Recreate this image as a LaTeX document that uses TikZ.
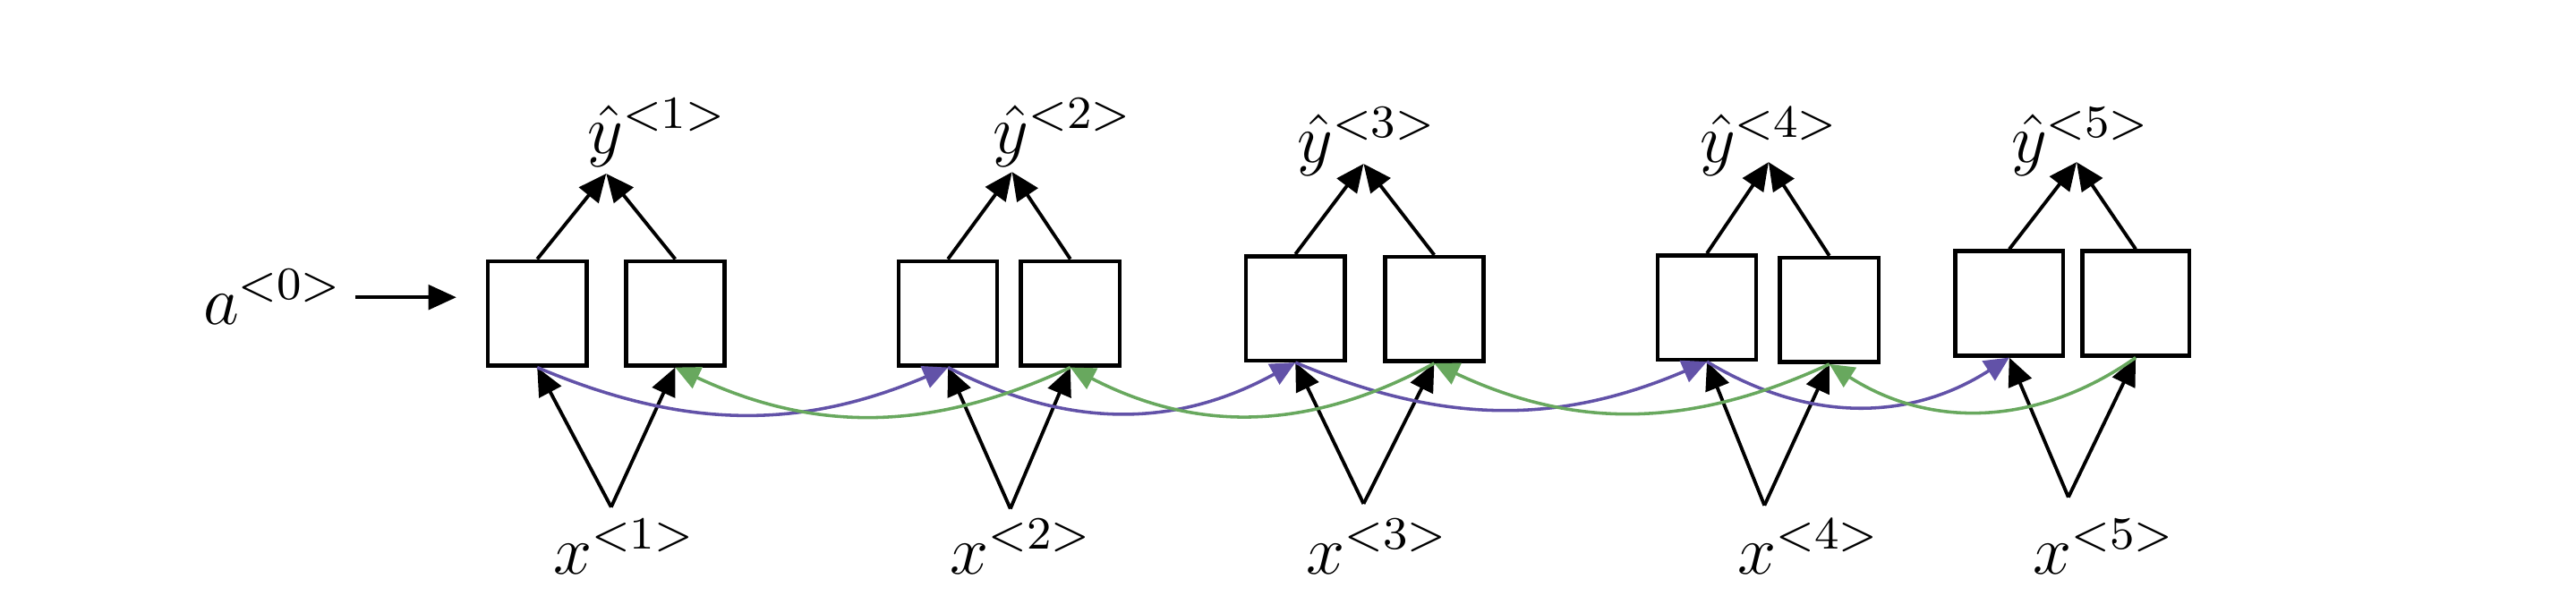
\documentclass[tikz,border=0pt]{standalone}
\usepackage{tikz}
\usetikzlibrary{arrows.meta}
\definecolor{fwdpurple}{RGB}{98,82,168}
\definecolor{bwdgreen}{RGB}{104,168,94}

\begin{document}
\begin{tikzpicture}[
    cell/.style={draw,line width=0.7pt,minimum width=0.6cm,minimum height=0.635cm,inner sep=0pt},
    lbl/.style={font=\large,anchor=base west,inner sep=0pt},
    arr/.style={-{Triangle[length=0.17cm,width=0.15cm]},line width=0.6pt},
    fwd/.style={-{Triangle[length=0.15cm,width=0.14cm]},line width=0.55pt,fwdpurple},
    bwd/.style={-{Triangle[length=0.15cm,width=0.14cm]},line width=0.55pt,bwdgreen}
]
\useasboundingbox (0,0) rectangle (15.68,3.727);

\node[lbl] (a0) at (1.23,1.75) {$a^{<0>}$};

\node[cell] (fw1) at (3.27,1.82) {};
\node[cell] (bw1) at (4.11,1.82) {};
\node[cell] (fw2) at (5.77,1.82) {};
\node[cell] (bw2) at (6.515,1.82) {};
\node[cell] (fw3) at (7.885,1.85) {};
\node[cell] (bw3) at (8.73,1.845) {};
\node[cell] (fw4) at (10.39,1.855) {};
\node[cell] (bw4) at (11.135,1.84) {};
\node[cell,minimum width=0.655cm] (fw5) at (12.23,1.88) {};
\node[cell,minimum width=0.65cm] (bw5) at (13.00,1.88) {};

\node[lbl] (yhat1) at (3.57,2.79) {$\hat{y}^{<1>}$};
\node[lbl] (yhat2) at (6.04,2.79) {$\hat{y}^{<2>}$};
\node[lbl] (yhat3) at (7.89,2.74) {$\hat{y}^{<3>}$};
\node[lbl] (yhat4) at (10.34,2.74) {$\hat{y}^{<4>}$};
\node[lbl] (yhat5) at (12.235,2.74) {$\hat{y}^{<5>}$};

\node[lbl] (x1) at (3.36,0.23) {$x^{<1>}$};
\node[lbl] (x2) at (5.775,0.23) {$x^{<2>}$};
\node[lbl] (x3) at (7.945,0.23) {$x^{<3>}$};
\node[lbl] (x4) at (10.57,0.23) {$x^{<4>}$};
\node[lbl] (x5) at (12.37,0.23) {$x^{<5>}$};

\coordinate (top1) at (3.69,2.67);
\coordinate (top2) at (6.16,2.68);
\coordinate (top3) at (8.30,2.73);
\coordinate (top4) at (10.765,2.74);
\coordinate (top5) at (12.64,2.74);
\coordinate (bot1) at (3.72,0.64);
\coordinate (bot2) at (6.15,0.63);
\coordinate (bot3) at (8.30,0.66);
\coordinate (bot4) at (10.74,0.65);
\coordinate (bot5) at (12.59,0.70);

\draw[arr,shorten <=0.07cm,shorten >=0.18cm] (a0.east) -- (a0.east -| fw1.west);

\draw[arr] (fw1.north) -- (top1);
\draw[arr] (bw1.north) -- (top1);
\draw[arr] (fw2.north) -- (top2);
\draw[arr] (bw2.north) -- (top2);
\draw[arr] (fw3.north) -- (top3);
\draw[arr] (bw3.north) -- (top3);
\draw[arr] (fw4.north) -- (top4);
\draw[arr] (bw4.north) -- (top4);
\draw[arr] (fw5.north) -- (top5);
\draw[arr] (bw5.north) -- (top5);

\draw[arr] (bot1) -- (fw1.south);
\draw[arr] (bot1) -- (bw1.south);
\draw[arr] (bot2) -- (fw2.south);
\draw[arr] (bot2) -- (bw2.south);
\draw[arr] (bot3) -- (fw3.south);
\draw[arr] (bot3) -- (bw3.south);
\draw[arr] (bot4) -- (fw4.south);
\draw[arr] (bot4) -- (bw4.south);
\draw[arr] (bot5) -- (fw5.south);
\draw[arr] (bot5) -- (bw5.south);

\draw[fwd] (fw1.south) to[bend right=23] (fw2.south);
\draw[fwd] (fw2.south) to[bend right=28] (fw3.south);
\draw[fwd] (fw3.south) to[bend right=23] (fw4.south);
\draw[fwd] (fw4.south) to[bend right=32] (fw5.south);

\draw[bwd] (bw2.south) to[bend left=25] (bw1.south);
\draw[bwd] (bw3.south) to[bend left=28] (bw2.south);
\draw[bwd] (bw4.south) to[bend left=25] (bw3.south);
\draw[bwd] (bw5.south) to[bend left=34] (bw4.south);
\end{tikzpicture}
\end{document}
